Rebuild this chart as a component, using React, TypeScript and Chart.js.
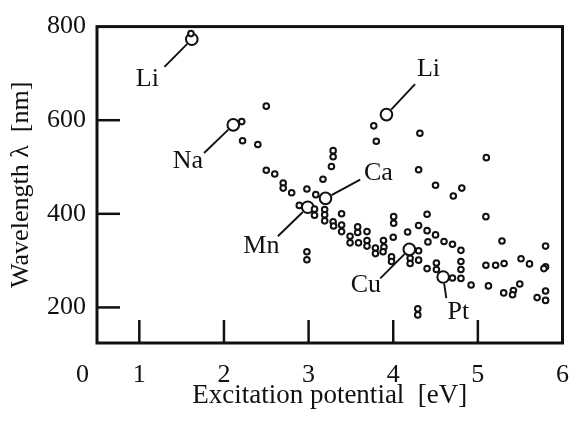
import React, { useEffect, useRef } from "react";
import { Chart, registerables } from "chart.js";

Chart.register(...registerables);

// ---- Data ----
const lineX = [
  1.61, 2.21, 2.5, 2.22, 2.4, 2.5, 2.6, 2.7, 2.7, 2.8, 2.89, 2.98, 3.17, 3.085, 2.98, 2.98,
  3.29, 3.29, 3.27, 3.07, 3.07, 3.19, 3.19, 3.19, 3.39, 3.29, 3.295, 3.39, 3.39, 3.58, 3.58,
  3.69, 3.49, 3.49, 3.59, 3.69, 3.69, 3.79, 3.79, 3.885, 3.89, 3.88, 3.98, 3.98, 4.005, 4.005,
  4.0, 4.17, 4.3, 4.3, 4.3, 4.2, 4.2, 4.4, 4.4, 4.41, 4.4, 4.5, 4.51, 4.51, 4.6, 4.7, 4.7,
  4.8, 4.8, 4.8, 4.8, 4.92, 4.29, 4.29, 4.3, 4.5, 4.71, 4.81, 5.1, 5.095, 5.285, 5.8, 5.095,
  5.21, 5.31, 5.51, 5.61, 5.8, 5.78, 5.125, 5.305, 5.42, 5.41, 5.495, 5.7, 5.8, 5.8, 3.77,
  3.8, 4.315,
];
const lineY = [
  785, 597, 630, 556, 548, 493, 485, 466, 455, 445, 418, 453, 474, 441, 319, 302,
  535, 522, 501, 410, 397, 409, 398, 385, 400, 383, 374, 376, 362, 372, 360,
  362, 352, 338, 338, 343, 331, 327, 315, 343, 329, 319, 308, 298, 394, 380,
  350, 361, 375, 321, 301, 305, 294, 399, 364, 340, 283, 355, 295, 281, 341, 335, 263,
  322, 298, 281, 262, 248, 197, 184, 494, 461, 438, 455, 520, 394, 342, 331, 290,
  290, 294, 304, 293, 287, 283, 246, 231, 236, 227, 250, 221, 235, 215, 588,
  555, 572,
];

const elementNames = ["Li", "Na", "Mn", "Ca", "Li", "Cu", "Pt"];
const elementX = [1.62, 2.11, 2.99, 3.2, 3.92, 4.19, 4.59];
const elementY = [773, 590, 414, 433, 612, 324, 265];
// where each name sits and where its leader line ends (data units)
const nameAtX = [1.095, 1.575, 2.442, 3.824, 4.417, 3.676, 4.77];
const nameAtY = [682, 506, 325, 480, 703, 241, 183];
const leaderToX = [1.297, 1.765, 2.637, 3.61, 4.258, 3.847, 4.627];
const leaderToY = [714, 530, 352, 473, 677, 262, 220];

const xTickValues = [0, 1, 2, 3, 4, 5, 6];
const xTickLabels = ["0", "1", "2", "3", "4", "5", "6"];
const yTickValues = [200, 400, 600, 800];
const innerXTicks = [1, 2, 3, 4, 5];
const innerYTicks = [200, 400, 600];

const X_MIN = 0.5;
const X_MAX = 6;
const Y_MIN = 124;
const Y_MAX = 800;

const FONT = "'Liberation Serif', 'Times New Roman', serif";
const INK = "#111";

const framePlugin = {
  id: "frameAndTicks",
  afterDraw(chart: any) {
    const { ctx, chartArea } = chart;
    const xs = chart.scales.x;
    const ys = chart.scales.y;
    ctx.save();
    ctx.strokeStyle = INK;
    ctx.lineWidth = 2.5;
    const len = 23;
    innerXTicks.forEach((v) => {
      const px = xs.getPixelForValue(v);
      ctx.beginPath();
      ctx.moveTo(px, chartArea.bottom);
      ctx.lineTo(px, chartArea.bottom - len);
      ctx.stroke();
    });
    innerYTicks.forEach((v) => {
      const py = ys.getPixelForValue(v);
      ctx.beginPath();
      ctx.moveTo(chartArea.left, py);
      ctx.lineTo(chartArea.left + len, py);
      ctx.stroke();
    });
    ctx.lineWidth = 3;
    ctx.strokeRect(
      chartArea.left,
      chartArea.top,
      chartArea.right - chartArea.left,
      chartArea.bottom - chartArea.top
    );
    ctx.restore();
  },
};

const namesPlugin = {
  id: "elementNames",
  afterDatasetsDraw(chart: any) {
    const { ctx } = chart;
    const xs = chart.scales.x;
    const ys = chart.scales.y;
    ctx.save();
    ctx.strokeStyle = INK;
    ctx.fillStyle = INK;
    ctx.lineWidth = 1.9;
    ctx.font = `26px ${FONT}`;
    ctx.textAlign = "center";
    ctx.textBaseline = "middle";
    elementNames.forEach((name, i) => {
      const px = xs.getPixelForValue(elementX[i]);
      const py = ys.getPixelForValue(elementY[i]);
      const ex = xs.getPixelForValue(leaderToX[i]);
      const ey = ys.getPixelForValue(leaderToY[i]);
      const dx = ex - px;
      const dy = ey - py;
      const d = Math.hypot(dx, dy) || 1;
      const r = 6.8;
      ctx.beginPath();
      ctx.moveTo(px + (dx / d) * r, py + (dy / d) * r);
      ctx.lineTo(ex, ey);
      ctx.stroke();
      ctx.fillText(
        name,
        xs.getPixelForValue(nameAtX[i]),
        ys.getPixelForValue(nameAtY[i]) - 3
      );
    });
    ctx.restore();
  },
};

export default function App() {
  const ref = useRef<HTMLCanvasElement | null>(null);

  useEffect(() => {
    if (!ref.current) return;
    Chart.defaults.font.family = FONT;
    Chart.defaults.color = INK;

    const chart = new Chart(ref.current, {
      type: "scatter",
      data: {
        datasets: [
          {
            label: "lines",
            data: lineX.map((x, i) => ({ x, y: lineY[i] })),
            pointRadius: 2.8,
            pointBorderWidth: 2,
            pointBorderColor: INK,
            pointBackgroundColor: "#fff",
            pointStyle: "circle",
          },
          {
            label: "elements",
            data: elementX.map((x, i) => ({ x, y: elementY[i] })),
            pointRadius: 5.8,
            pointBorderWidth: 2,
            pointBorderColor: INK,
            pointBackgroundColor: "#fff",
            pointStyle: "circle",
          },
        ],
      },
      options: {
        responsive: false,
        animation: false,
        clip: false as any,
        layout: { padding: { left: 6, right: 8, top: 21, bottom: 6 } },
        plugins: {
          legend: { display: false },
          tooltip: { enabled: false },
        },
        scales: {
          x: {
            type: "linear",
            min: X_MIN,
            max: X_MAX,
            grid: { display: false, drawTicks: false },
            border: { display: false },
            afterBuildTicks: (scale: any) => {
              scale.ticks = xTickValues.map((v) => ({
                value: v < X_MIN ? X_MIN - 0.17 : v,
              }));
            },
            afterFit: (scale: any) => {
              scale.height = 77;
            },
            ticks: {
              autoSkip: false,
              maxRotation: 0,
              padding: 17,
              font: { size: 26, family: FONT },
              color: INK,
              callback: (_v: any, i: number) => xTickLabels[i],
            },
            title: {
              display: true,
              text: "Excitation potential  [eV]",
              font: { size: 27, family: FONT },
              color: INK,
              padding: { top: 0, bottom: 8 },
            },
          },
          y: {
            type: "linear",
            min: Y_MIN,
            max: Y_MAX,
            grid: { display: false, drawTicks: false },
            border: { display: false },
            afterBuildTicks: (scale: any) => {
              scale.ticks = yTickValues.map((v) => ({ value: v }));
            },
            afterFit: (scale: any) => {
              scale.width = 91;
            },
            ticks: {
              autoSkip: false,
              padding: 11,
              font: { size: 26, family: FONT },
              color: INK,
              callback: (v: any) => String(v),
            },
            title: {
              display: true,
              text: "Wavelength λ  [nm]",
              font: { size: 26, family: FONT },
              color: INK,
              padding: { top: 0, bottom: 0 },
            },
          },
        },
      },
      plugins: [framePlugin, namesPlugin],
    });
    return () => chart.destroy();
  }, []);

  return (
    <div style={{ position: "absolute", left: 0, top: 0, width: 586, height: 426, background: "#fff" }}>
      <canvas ref={ref} width={586} height={426} style={{ display: "block" }} />
    </div>
  );
}
